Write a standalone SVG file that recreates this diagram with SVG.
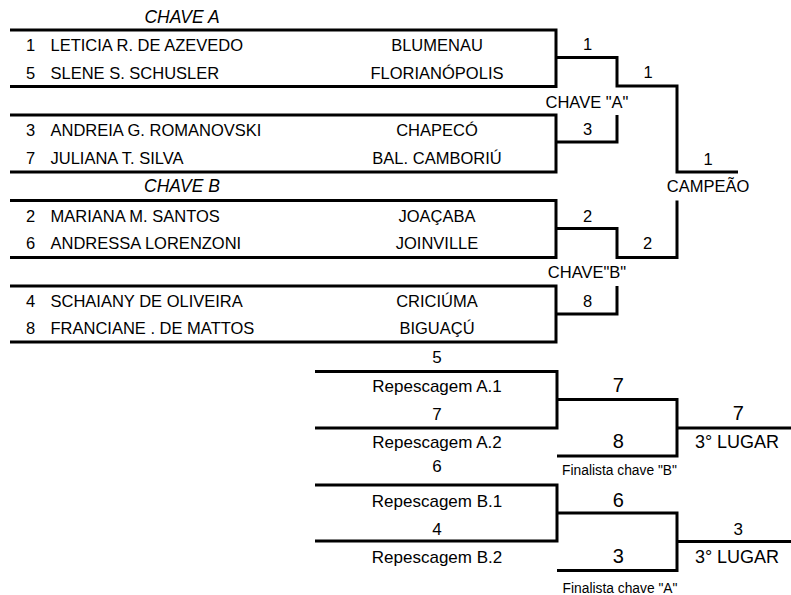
<svg xmlns="http://www.w3.org/2000/svg" width="791" height="595" viewBox="0 0 791 595">
<style>
text{font-family:"Liberation Sans",Arial,sans-serif;fill:#000}
.n{font-size:16.5px}
.c{font-size:16.5px;text-anchor:middle}
.h{font-size:17.5px;font-style:italic;text-anchor:middle}
.r{font-size:17px;text-anchor:middle}
.big{font-size:20px;text-anchor:middle}
.lg{font-size:18px;text-anchor:middle}
.sm{font-size:13.8px;text-anchor:middle}
.ln{fill:none;stroke:#000;stroke-width:3;stroke-linejoin:miter;stroke-linecap:butt}
</style>
<rect width="791" height="595" fill="#fff"/>

<g id="title-a"><text class="h" x="182" y="22.5">CHAVE A</text></g>

<g id="match-a1">
<path class="ln" d="M10 30 H556 V86.5 H10"/>
<text class="n" x="26" y="50.7">1</text><text class="n" x="50.5" y="50.7">LETICIA R. DE AZEVEDO</text><text class="c" x="437" y="50.7">BLUMENAU</text>
<text class="n" x="26" y="78.5">5</text><text class="n" x="50.5" y="78.5">SLENE S. SCHUSLER</text><text class="c" x="437" y="78.5">FLORIANÓPOLIS</text>
</g>

<g id="match-a2">
<path class="ln" d="M10 115 H556 V172 H10"/>
<text class="n" x="26" y="135.5">3</text><text class="n" x="50.5" y="135.5">ANDREIA G. ROMANOVSKI</text><text class="c" x="437" y="135.5">CHAPECÓ</text>
<text class="n" x="26" y="164">7</text><text class="n" x="50.5" y="164">JULIANA T. SILVA</text><text class="c" x="437" y="164">BAL. CAMBORIÚ</text>
</g>

<g id="title-b"><text class="h" x="182" y="191.7">CHAVE B</text></g>

<g id="match-b1">
<path class="ln" d="M10 200.5 H556 V257.5 H10"/>
<text class="n" x="26" y="221.7">2</text><text class="n" x="50.5" y="221.7">MARIANA M. SANTOS</text><text class="c" x="437" y="221.7">JOAÇABA</text>
<text class="n" x="26" y="249.3">6</text><text class="n" x="50.5" y="249.3">ANDRESSA LORENZONI</text><text class="c" x="437" y="249.3">JOINVILLE</text>
</g>

<g id="match-b2">
<path class="ln" d="M10 286 H556 V342 H10"/>
<text class="n" x="26" y="306.7">4</text><text class="n" x="50.5" y="306.7">SCHAIANY DE OLIVEIRA</text><text class="c" x="437" y="306.7">CRICIÚMA</text>
<text class="n" x="26" y="334.3">8</text><text class="n" x="50.5" y="334.3">FRANCIANE . DE MATTOS</text><text class="c" x="437" y="334.3">BIGUAÇÚ</text>
</g>

<g id="connectors">
<path class="ln" d="M556 57.5 H617 V86 H677 V172 H738"/>
<path class="ln" d="M556 142 H617 V115"/>
<path class="ln" d="M556 228.5 H617 V257.5 H677 V200.5"/>
<path class="ln" d="M556 314 H617 V286"/>
<path class="ln" d="M557 399.5 H677 V456 H557"/>
<path class="ln" d="M677 428 H791"/>
<path class="ln" d="M557 513 H677 V570.5 H557"/>
<path class="ln" d="M677 541.5 H791"/>
</g>

<g id="semi-a">
<text class="c" x="587.5" y="50">1</text>
<text class="c" x="587.5" y="135">3</text>
<text class="c" x="587" y="108.3">CHAVE "A"</text>
</g>
<g id="final-a"><text class="c" x="648" y="78.3">1</text></g>
<g id="champion">
<text class="c" x="708" y="165">1</text>
<text class="c" x="708" y="192">CAMPEÃO</text>
</g>
<g id="semi-b">
<text class="c" x="587.5" y="221.7">2</text>
<text class="c" x="587.5" y="306.7">8</text>
<text class="c" x="587" y="278">CHAVE"B"</text>
</g>
<g id="final-b"><text class="c" x="647.5" y="249.3">2</text></g>

<g id="rep-a">
<path class="ln" d="M315 371.5 H557 V428 H315"/>
<text class="r" x="437" y="363.3">5</text>
<text class="r" x="437" y="391.7">Repescagem A.1</text>
<text class="r" x="437" y="420">7</text>
<text class="r" x="437" y="448.3">Repescagem A.2</text>
</g>
<g id="rep-a-final">
<text class="big" x="618.3" y="391.7">7</text>
<text class="big" x="618.3" y="448">8</text>
<text class="sm" x="619.5" y="475">Finalista chave "B"</text>
</g>
<g id="third-a">
<text class="big" x="738.3" y="420">7</text>
<text class="lg" x="737" y="448">3° LUGAR</text>
</g>

<g id="rep-b">
<path class="ln" d="M315 485 H557 V541 H315"/>
<text class="r" x="437" y="471.7">6</text>
<text class="r" x="437" y="506.7">Repescagem B.1</text>
<text class="r" x="437" y="535">4</text>
<text class="r" x="437" y="562.7">Repescagem B.2</text>
</g>
<g id="rep-b-final">
<text class="big" x="618.3" y="506.7">6</text>
<text class="big" x="618.3" y="563.3">3</text>
<text class="sm" x="620" y="592.5">Finalista chave "A"</text>
</g>
<g id="third-b">
<text class="r" x="738.3" y="535">3</text>
<text class="lg" x="737" y="563.3">3° LUGAR</text>
</g>
</svg>
